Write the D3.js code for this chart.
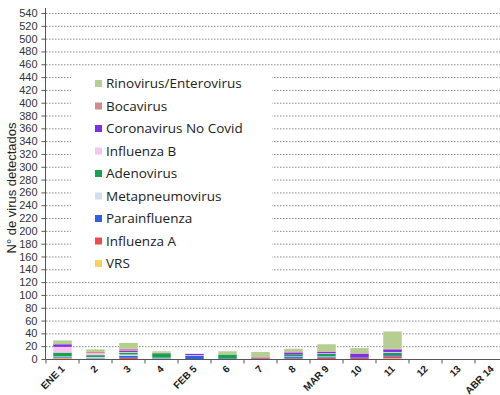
<!DOCTYPE html>
<html>
<head>
<meta charset="utf-8">
<script src="https://cdn.jsdelivr.net/npm/d3@7"></script>
<style>
  body { margin: 0; background: #fff; }
  svg { display: block; font-family: "Liberation Sans", Arial, sans-serif; }
</style>
</head>
<body>
<svg width="500" height="395"></svg>
<script>
// weeks on the x axis
const weeks = ['ENE 1', '2', '3', '4', 'FEB 5', '6', '7', '8', 'MAR 9', '10', '11', '12', '13', 'ABR 14'];

// series, bottom of the stack first
const viruses = ['VRS', 'Influenza A', 'Parainfluenza', 'Metapneumovirus', 'Adenovirus',
  'Influenza B', 'Coronavirus No Covid', 'Bocavirus', 'Rinovirus/Enterovirus'];
const colors = ['#f7d35c', '#ee4b4f', '#3060e0', '#d5deee', '#17a052',
  '#f6c4ef', '#7c2fe6', '#d48a8e', '#b5cf92'];

// counts per week, one array per virus
const vrs      = [1, 0, 0, 0, 0, 0, 0, 0, 0, 0, 1, 0, 0, 0];
const fluA     = [1, 0, 2, 0, 0, 0, 1, 1, 2, 2, 3, 0, 0, 0];
const para     = [1, 1, 3, 1, 5, 1, 0, 2, 1, 1, 2, 0, 0, 0];
const metap    = [1, 2, 2, 1, 1, 0, 0, 1, 1, 0, 0, 0, 0, 0];
const adeno    = [6, 3, 3, 7, 0, 6, 0, 3, 4, 0, 4, 0, 0, 0];
const fluB     = [9, 3, 1, 0, 0, 0, 0, 0, 1, 0, 1, 0, 0, 0];
const corona   = [4, 0, 2, 0, 2, 0, 1, 3, 2, 5, 4, 0, 0, 0];
const boca     = [0, 2, 3, 1, 0, 0, 1, 2, 1, 1, 1, 0, 0, 0];
const rino     = [6, 4, 9, 2, 0, 5, 8, 4, 11, 8, 27, 0, 0, 0];

const yTicks = d3.range(0, 541, 20);

const series = [vrs, fluA, para, metap, adeno, fluB, corona, boca, rino];
const rows = weeks.map((w, i) => {
  const r = { week: w };
  viruses.forEach((v, k) => r[v] = series[k][i]);
  return r;
});

const svg = d3.select('svg');

const x = d3.scaleBand()
  .domain(weeks)
  .range([46, 46 + 14 * 33])
  .paddingInner(0.44)
  .paddingOuter(0.22);

const y = d3.scaleLinear().domain([0, 540]).range([359, 13]);

// dotted grid
svg.append('g')
  .selectAll('line')
  .data(yTicks.filter(d => d > 0))
  .join('line')
    .attr('x1', 46).attr('x2', 500)
    .attr('y1', d => y(d) + 0.5).attr('y2', d => y(d) + 0.5)
    .attr('stroke', '#8a8a8a')
    .attr('stroke-width', 1)
    .attr('stroke-dasharray', '1.5,1.5');

// stacked bars
const stacked = d3.stack().keys(viruses)(rows);
svg.append('g')
  .selectAll('g')
  .data(stacked)
  .join('g')
    .attr('fill', (d, i) => colors[i])
  .selectAll('rect')
  .data(d => d)
  .join('rect')
    .attr('x', d => x(d.data.week))
    .attr('width', x.bandwidth())
    .attr('y', d => y(d[1]))
    .attr('height', d => y(d[0]) - y(d[1]));

// y axis
const yAxis = svg.append('g')
  .attr('transform', 'translate(45.5,0)')
  .call(d3.axisLeft(y).tickValues(yTicks).tickSize(4).tickSizeOuter(0).tickPadding(4));
yAxis.select('.domain').attr('stroke', '#555').attr('d', 'M0,8V359');
yAxis.selectAll('.tick line').attr('stroke', '#555');
yAxis.selectAll('text')
  .attr('font-size', 11)
  .attr('fill', '#333')
  .attr('font-family', '"Liberation Sans", Arial, sans-serif');

// x axis
const xAxis = svg.append('g')
  .attr('transform', 'translate(0,359.5)')
  .call(d3.axisBottom(x).tickSize(0).tickSizeOuter(0));
xAxis.select('.domain').attr('stroke', '#555').attr('d', 'M45.5,0H500');
xAxis.selectAll('.tick text')
  .attr('font-size', 10)
  .attr('font-weight', 'bold')
  .attr('fill', '#222')
  .attr('font-family', '"Liberation Sans", Arial, sans-serif')
  .attr('text-anchor', 'end')
  .attr('dy', null)
  .attr('y', 0)
  .attr('transform', 'translate(3,10) rotate(-45)');
// small ticks between the weeks
xAxis.append('g')
  .selectAll('line')
  .data(d3.range(0, 15))
  .join('line')
    .attr('x1', i => 46 + i * x.step()).attr('x2', i => 46 + i * x.step())
    .attr('y1', 0).attr('y2', 4)
    .attr('stroke', '#555');

// y label
svg.append('text')
  .attr('transform', 'translate(16,188) rotate(-90)')
  .attr('text-anchor', 'middle')
  .attr('font-size', 13)
  .attr('fill', '#222')
  .text('N° de virus detectados');

// legend box
const legend = svg.append('g');
legend.append('rect')
  .attr('x', 71).attr('y', 68)
  .attr('width', 201).attr('height', 210)
  .attr('fill', '#fff');

const legendItems = viruses.slice().reverse();
const legendColors = colors.slice().reverse();
const li = legend.selectAll('g.item')
  .data(legendItems)
  .join('g')
    .attr('class', 'item')
    .attr('transform', (d, i) => `translate(95,${83.5 + i * 22.5})`);
li.append('rect')
  .attr('x', 0).attr('y', -3.5)
  .attr('width', 7).attr('height', 7)
  .attr('fill', (d, i) => legendColors[i]);
li.append('text')
  .attr('x', 11)
  .attr('dy', '0.35em')
  .attr('font-size', 13.5)
  .attr('font-family', '"Open Sans", "Noto Sans", sans-serif')
  .attr('fill', '#222')
  .text(d => d);
</script>
</body>
</html>
